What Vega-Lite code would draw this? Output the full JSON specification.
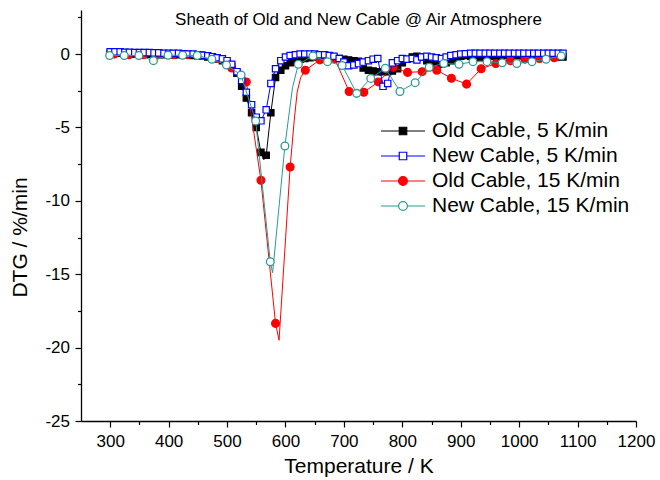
{
  "$schema": "https://vega.github.io/schema/vega-lite/v6.json",
  "width": 555,
  "height": 411,
  "autosize": {"type": "none"},
  "padding": {"left": 81, "top": 10, "right": 24, "bottom": 59},
  "background": "white",
  "config": {
    "view": {"stroke": null},
    "font": "Liberation Sans",
    "axis": {
      "grid": false,
      "domainColor": "#000000",
      "domainWidth": 1.3,
      "tickColor": "#000000",
      "tickWidth": 1.2,
      "labelColor": "#000000",
      "labelFont": "Liberation Sans",
      "labelFontSize": 17,
      "labelOverlap": false,
      "labelFlush": false,
      "labelBound": false,
      "titleFont": "Liberation Sans",
      "titleFontSize": 21,
      "titleFontWeight": "normal",
      "titleColor": "#000000"
    },
    "legend": {
      "title": null,
      "orient": "none",
      "legendX": 299,
      "legendY": 108.7,
      "clipHeight": 24.6,
      "rowPadding": 0,
      "padding": 0,
      "symbolSize": 1936,
      "symbolStrokeWidth": 1.2,
      "symbolOpacity": 1,
      "labelFont": "Liberation Sans",
      "labelFontSize": 21,
      "labelColor": "#000000",
      "labelOffset": 6,
      "labelLimit": 400
    }
  },
  "title": {
    "text": "Sheath of Old and New Cable @ Air Atmosphere",
    "font": "Liberation Sans",
    "fontSize": 17,
    "fontWeight": "normal",
    "color": "#000000",
    "anchor": "middle",
    "frame": "group",
    "baseline": "alphabetic",
    "offset": -34
  },
  "datasets": {
    "old5": [
      {"T": 300, "DTG": 0.05}, {"T": 308, "DTG": 0.05}, {"T": 317, "DTG": 0.05}, {"T": 325, "DTG": 0.03},
      {"T": 333, "DTG": 0.02}, {"T": 342, "DTG": 0}, {"T": 350, "DTG": 0}, {"T": 358, "DTG": 0},
      {"T": 367, "DTG": -0.02}, {"T": 375, "DTG": -0.03}, {"T": 383, "DTG": -0.03}, {"T": 392, "DTG": -0.05},
      {"T": 400, "DTG": -0.05}, {"T": 408, "DTG": -0.05}, {"T": 417, "DTG": -0.05}, {"T": 425, "DTG": -0.06},
      {"T": 433, "DTG": -0.08}, {"T": 442, "DTG": -0.1}, {"T": 450, "DTG": -0.12}, {"T": 458, "DTG": -0.15},
      {"T": 467, "DTG": -0.2}, {"T": 475, "DTG": -0.27}, {"T": 483, "DTG": -0.35}, {"T": 492, "DTG": -0.45},
      {"T": 500, "DTG": -0.6}, {"T": 508, "DTG": -0.85}, {"T": 517, "DTG": -1.3}, {"T": 525, "DTG": -2.2},
      {"T": 533, "DTG": -3.0}, {"T": 542, "DTG": -4.0}, {"T": 550, "DTG": -5.0}, {"T": 558, "DTG": -6.7},
      {"T": 563, "DTG": -7.2, "sampled": false}, {"T": 567, "DTG": -6.9}, {"T": 575, "DTG": -4.0},
      {"T": 583, "DTG": -1.6}, {"T": 592, "DTG": -1.1}, {"T": 600, "DTG": -0.8}, {"T": 608, "DTG": -0.6},
      {"T": 617, "DTG": -0.45}, {"T": 625, "DTG": -0.35}, {"T": 633, "DTG": -0.3}, {"T": 642, "DTG": -0.25},
      {"T": 650, "DTG": -0.2}, {"T": 658, "DTG": -0.2}, {"T": 667, "DTG": -0.2}, {"T": 675, "DTG": -0.2},
      {"T": 683, "DTG": -0.25}, {"T": 692, "DTG": -0.3}, {"T": 700, "DTG": -0.35}, {"T": 708, "DTG": -0.4},
      {"T": 717, "DTG": -0.45}, {"T": 725, "DTG": -0.5}, {"T": 733, "DTG": -0.95}, {"T": 742, "DTG": -1.1},
      {"T": 750, "DTG": -1.15}, {"T": 758, "DTG": -1.2}, {"T": 767, "DTG": -1.2}, {"T": 775, "DTG": -1.2},
      {"T": 783, "DTG": -1.15}, {"T": 792, "DTG": -1.0}, {"T": 800, "DTG": -0.6}, {"T": 808, "DTG": -0.35},
      {"T": 817, "DTG": -0.2}, {"T": 825, "DTG": -0.15}, {"T": 833, "DTG": -0.2}, {"T": 842, "DTG": -0.45},
      {"T": 850, "DTG": -0.7}, {"T": 858, "DTG": -0.75}, {"T": 867, "DTG": -0.7}, {"T": 875, "DTG": -0.6},
      {"T": 883, "DTG": -0.45}, {"T": 892, "DTG": -0.3}, {"T": 900, "DTG": -0.15}, {"T": 908, "DTG": -0.1},
      {"T": 917, "DTG": -0.15}, {"T": 925, "DTG": -0.2}, {"T": 933, "DTG": -0.2}, {"T": 942, "DTG": -0.2},
      {"T": 950, "DTG": -0.15}, {"T": 958, "DTG": -0.15}, {"T": 967, "DTG": -0.15}, {"T": 975, "DTG": -0.1},
      {"T": 983, "DTG": -0.1}, {"T": 992, "DTG": -0.1}, {"T": 1000, "DTG": -0.1}, {"T": 1008, "DTG": -0.1},
      {"T": 1017, "DTG": -0.1}, {"T": 1025, "DTG": -0.1}, {"T": 1033, "DTG": -0.1}, {"T": 1042, "DTG": -0.1},
      {"T": 1050, "DTG": -0.1}, {"T": 1058, "DTG": -0.15}, {"T": 1067, "DTG": -0.2}, {"T": 1075, "DTG": -0.2}
    ],
    "new5": [
      {"T": 300, "DTG": 0.15}, {"T": 308, "DTG": 0.15}, {"T": 317, "DTG": 0.15}, {"T": 325, "DTG": 0.12},
      {"T": 333, "DTG": 0.12}, {"T": 342, "DTG": 0.1}, {"T": 350, "DTG": 0.1}, {"T": 358, "DTG": 0.1},
      {"T": 367, "DTG": 0.1}, {"T": 375, "DTG": 0.08}, {"T": 383, "DTG": 0.08}, {"T": 392, "DTG": 0.05},
      {"T": 400, "DTG": 0.05}, {"T": 408, "DTG": 0.05}, {"T": 417, "DTG": 0.05}, {"T": 425, "DTG": 0.02},
      {"T": 433, "DTG": 0}, {"T": 442, "DTG": 0}, {"T": 450, "DTG": -0.05}, {"T": 458, "DTG": -0.08},
      {"T": 467, "DTG": -0.12}, {"T": 475, "DTG": -0.18}, {"T": 483, "DTG": -0.25}, {"T": 492, "DTG": -0.33},
      {"T": 500, "DTG": -0.45}, {"T": 508, "DTG": -0.7}, {"T": 517, "DTG": -1.2}, {"T": 525, "DTG": -1.8},
      {"T": 533, "DTG": -2.6}, {"T": 542, "DTG": -3.45}, {"T": 550, "DTG": -4.3}, {"T": 558, "DTG": -4.55},
      {"T": 567, "DTG": -3.8}, {"T": 575, "DTG": -2.0}, {"T": 583, "DTG": -1.0}, {"T": 592, "DTG": -0.45},
      {"T": 600, "DTG": -0.2}, {"T": 608, "DTG": -0.1}, {"T": 617, "DTG": -0.05}, {"T": 625, "DTG": 0},
      {"T": 633, "DTG": 0}, {"T": 642, "DTG": 0}, {"T": 650, "DTG": 0}, {"T": 658, "DTG": -0.05},
      {"T": 667, "DTG": -0.05}, {"T": 675, "DTG": -0.1}, {"T": 683, "DTG": -0.15}, {"T": 692, "DTG": -0.3},
      {"T": 700, "DTG": -0.55}, {"T": 708, "DTG": -0.8}, {"T": 717, "DTG": -0.75}, {"T": 725, "DTG": -0.65},
      {"T": 733, "DTG": -0.55}, {"T": 742, "DTG": -0.45}, {"T": 750, "DTG": -0.35}, {"T": 758, "DTG": -0.3},
      {"T": 767, "DTG": -2.2}, {"T": 775, "DTG": -2.0}, {"T": 783, "DTG": -0.6}, {"T": 792, "DTG": -0.45},
      {"T": 800, "DTG": -0.3}, {"T": 808, "DTG": -0.35}, {"T": 817, "DTG": -0.3}, {"T": 825, "DTG": -0.4},
      {"T": 833, "DTG": -0.2}, {"T": 842, "DTG": -0.15}, {"T": 850, "DTG": -0.2}, {"T": 858, "DTG": -0.25},
      {"T": 867, "DTG": -0.3}, {"T": 875, "DTG": -0.2}, {"T": 883, "DTG": -0.1}, {"T": 892, "DTG": -0.05},
      {"T": 900, "DTG": 0}, {"T": 908, "DTG": 0.02}, {"T": 917, "DTG": 0.05}, {"T": 925, "DTG": 0.05},
      {"T": 933, "DTG": 0.05}, {"T": 942, "DTG": 0.05}, {"T": 950, "DTG": 0.05}, {"T": 958, "DTG": 0.05},
      {"T": 967, "DTG": 0.05}, {"T": 975, "DTG": 0.05}, {"T": 983, "DTG": 0.05}, {"T": 992, "DTG": 0.05},
      {"T": 1000, "DTG": 0.05}, {"T": 1008, "DTG": 0.05}, {"T": 1017, "DTG": 0.05}, {"T": 1025, "DTG": 0.05},
      {"T": 1033, "DTG": 0.05}, {"T": 1042, "DTG": 0.05}, {"T": 1050, "DTG": 0.05}, {"T": 1058, "DTG": 0.05},
      {"T": 1067, "DTG": 0.05}, {"T": 1075, "DTG": 0.05}
    ],
    "old15": [
      {"T": 307, "DTG": 0}, {"T": 332, "DTG": -0.05}, {"T": 357, "DTG": -0.05}, {"T": 382, "DTG": -0.05},
      {"T": 407, "DTG": -0.05}, {"T": 432, "DTG": -0.05}, {"T": 458, "DTG": -0.1}, {"T": 483, "DTG": -0.3},
      {"T": 508, "DTG": -0.95}, {"T": 533, "DTG": -1.9}, {"T": 558, "DTG": -8.6}, {"T": 583, "DTG": -18.35},
      {"T": 589, "DTG": -19.5, "sampled": false}, {"T": 608, "DTG": -7.7},
      {"T": 615, "DTG": -4.5, "sampled": false}, {"T": 620, "DTG": -2.6, "sampled": false},
      {"T": 626, "DTG": -1.6, "sampled": false}, {"T": 634, "DTG": -1.1}, {"T": 659, "DTG": -0.4},
      {"T": 684, "DTG": -0.3}, {"T": 709, "DTG": -2.55}, {"T": 734, "DTG": -2.6}, {"T": 759, "DTG": -1.9},
      {"T": 784, "DTG": -0.9}, {"T": 809, "DTG": -1.25}, {"T": 834, "DTG": -1.2}, {"T": 859, "DTG": -1.1},
      {"T": 884, "DTG": -1.65}, {"T": 910, "DTG": -2.05}, {"T": 935, "DTG": -1.0}, {"T": 960, "DTG": -0.65},
      {"T": 985, "DTG": -0.45}, {"T": 1010, "DTG": -0.35}, {"T": 1035, "DTG": -0.3}, {"T": 1060, "DTG": -0.25}
    ],
    "new15": [
      {"T": 299, "DTG": -0.1}, {"T": 324, "DTG": -0.1}, {"T": 349, "DTG": -0.1}, {"T": 374, "DTG": -0.45},
      {"T": 399, "DTG": -0.08}, {"T": 424, "DTG": -0.08}, {"T": 449, "DTG": -0.1}, {"T": 474, "DTG": -0.36},
      {"T": 499, "DTG": -0.75}, {"T": 524, "DTG": -1.43}, {"T": 549, "DTG": -4.56}, {"T": 574, "DTG": -14.15},
      {"T": 578, "DTG": -14.9, "sampled": false}, {"T": 599, "DTG": -6.27},
      {"T": 612, "DTG": -2.3, "sampled": false}, {"T": 622, "DTG": -0.7}, {"T": 647, "DTG": -0.14},
      {"T": 672, "DTG": -0.52}, {"T": 697, "DTG": -0.78}, {"T": 722, "DTG": -2.68}, {"T": 746, "DTG": -1.66},
      {"T": 771, "DTG": -0.97}, {"T": 796, "DTG": -2.55}, {"T": 822, "DTG": -1.95}, {"T": 846, "DTG": -0.9},
      {"T": 871, "DTG": -0.64}, {"T": 897, "DTG": -0.7}, {"T": 921, "DTG": -0.52}, {"T": 945, "DTG": -0.52},
      {"T": 971, "DTG": -0.6}, {"T": 996, "DTG": -0.64}, {"T": 1022, "DTG": -0.52}, {"T": 1046, "DTG": -0.36},
      {"T": 1072, "DTG": -0.14}
    ]
  },
  "encoding": {
    "x": {
      "field": "T",
      "type": "quantitative",
      "title": "Temperature / K",
      "scale": {"domain": [250, 1200], "nice": false, "zero": false},
      "axis": {
        "values": [300, 350, 400, 450, 500, 550, 600, 650, 700, 750, 800, 850, 900, 950, 1000, 1050, 1100, 1150, 1200],
        "labelExpr": "datum.value % 100 === 0 ? toString(datum.value) : ''",
        "tickSize": {"condition": {"test": "datum.value % 100 === 0", "value": 6}, "value": 3.5},
        "labelPadding": 6,
        "titleY": 45,
        "titleBaseline": "middle"
      }
    },
    "y": {
      "field": "DTG",
      "type": "quantitative",
      "title": "DTG / %/min",
      "scale": {"domain": [-25, 3], "nice": false, "zero": false},
      "axis": {
        "values": [-25, -22.5, -20, -17.5, -15, -12.5, -10, -7.5, -5, -2.5, 0, 2.5],
        "labelExpr": "datum.value % 5 === 0 ? toString(datum.value) : ''",
        "tickSize": {"condition": {"test": "datum.value % 5 === 0", "value": 6}, "value": 3.5},
        "labelPadding": 5.5,
        "titleAngle": -90,
        "titleX": -61,
        "titleY": 227,
        "titleAlign": "center",
        "titleBaseline": "middle"
      }
    }
  },
  "layer": [
    {
      "data": {"name": "old5"},
      "mark": {"type": "line", "strokeWidth": 1},
      "encoding": {
        "color": {
          "datum": "Old Cable, 5 K/min",
          "type": "nominal",
          "scale": {
            "domain": ["Old Cable, 5 K/min", "New Cable, 5 K/min", "Old Cable, 15 K/min", "New Cable, 15 K/min"],
            "range": ["#000000", "#0000ff", "#ff0000", "#2a9a94"]
          },
          "legend": {
            "encode": {
              "symbols": {
                "update": {
                  "shape": {"signal": "indexof(datum.value, ', 5 ') > 0 ? 'M-1,0H-0.17M0.17,0H1M-0.17,-0.17H0.17V0.17H-0.17Z' : 'M-1,0H-0.2M0.2,0H1M0.2,0A0.2,0.2,0,1,1,-0.2,0A0.2,0.2,0,1,1,0.2,0Z'"},
                  "fill": {"signal": "datum.value === 'Old Cable, 5 K/min' ? '#000000' : datum.value === 'Old Cable, 15 K/min' ? '#ff0000' : '#ffffff'"},
                  "stroke": {"signal": "scale('color', datum.value)"},
                  "strokeWidth": {"value": 1.2},
                  "size": {"value": 1936},
                  "opacity": {"value": 1}
                }
              }
            }
          }
        }
      }
    },
    {
      "data": {"name": "old5"},
      "transform": [{"filter": "datum.sampled !== false"}],
      "mark": {"type": "point", "shape": "square", "filled": false, "fill": "#000000", "size": 40, "strokeWidth": 1.2, "opacity": 1},
      "encoding": {"color": {"datum": "Old Cable, 5 K/min", "type": "nominal"}}
    },
    {
      "data": {"name": "old15"},
      "mark": {"type": "line", "strokeWidth": 1},
      "encoding": {"color": {"datum": "Old Cable, 15 K/min", "type": "nominal"}}
    },
    {
      "data": {"name": "old15"},
      "transform": [{"filter": "datum.sampled !== false"}],
      "mark": {"type": "point", "shape": "circle", "filled": false, "fill": "#ff0000", "size": 60, "strokeWidth": 1.3, "opacity": 1},
      "encoding": {"color": {"datum": "Old Cable, 15 K/min", "type": "nominal"}}
    },
    {
      "data": {"name": "new5"},
      "mark": {"type": "line", "strokeWidth": 1},
      "encoding": {"color": {"datum": "New Cable, 5 K/min", "type": "nominal"}}
    },
    {
      "data": {"name": "new5"},
      "transform": [{"filter": "datum.sampled !== false"}],
      "mark": {"type": "point", "shape": "square", "filled": false, "fill": "#ffffff", "size": 40, "strokeWidth": 1.2, "opacity": 1},
      "encoding": {"color": {"datum": "New Cable, 5 K/min", "type": "nominal"}}
    },
    {
      "data": {"name": "new15"},
      "mark": {"type": "line", "strokeWidth": 1},
      "encoding": {"color": {"datum": "New Cable, 15 K/min", "type": "nominal"}}
    },
    {
      "data": {"name": "new15"},
      "transform": [{"filter": "datum.sampled !== false"}],
      "mark": {"type": "point", "shape": "circle", "filled": false, "fill": "#ffffff", "size": 60, "strokeWidth": 1.3, "opacity": 1},
      "encoding": {"color": {"datum": "New Cable, 15 K/min", "type": "nominal"}}
    }
  ]
}
